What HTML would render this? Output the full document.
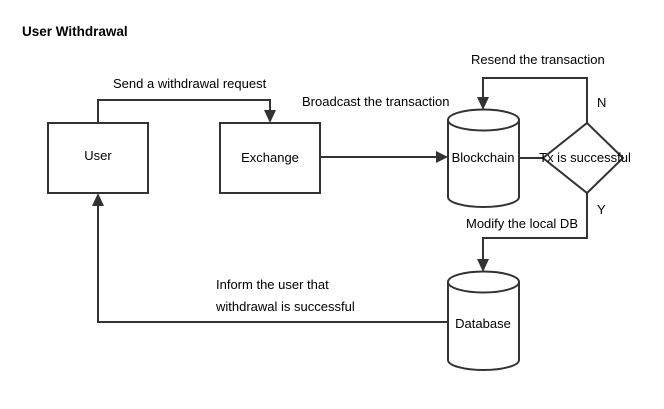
<!DOCTYPE html>
<html><head><style>body{margin:0;background:#fff}</style></head><body>
<svg width="664" height="404" xmlns="http://www.w3.org/2000/svg" font-family="'Liberation Sans','Noto Sans CJK SC',sans-serif" font-size="13" fill="#000">
<rect width="664" height="404" fill="#fff"/>
<text x="22" y="36" font-weight="bold" font-size="13.5">User Withdrawal</text>
<g stroke="#333" stroke-width="2" fill="none">
<rect x="48" y="123" width="100" height="70"/>
<rect x="220" y="123" width="100" height="70"/>
<path d="M98 123V100H270V112"/>
<path d="M320 157H438"/>
<path d="M519 158H543"/>
<path d="M587 123V78H483V99"/>
<path d="M587 193V238H483V261"/>
<path d="M448 322H98V206"/>
<path d="M448 120V197A35.5 10 0 0 0 519 197V120"/>
<ellipse cx="483.5" cy="120" rx="35.5" ry="10.5" fill="#fff"/>
<path d="M448 282V360A35.5 10 0 0 0 519 360V282"/>
<ellipse cx="483.5" cy="282" rx="35.5" ry="10.5" fill="#fff"/>
<path d="M587 123L623 158L587 193L543 158Z" fill="#fff"/>
</g>
<g fill="#333">
<path d="M264 110H276L270 123Z"/>
<path d="M436 151V163L448 157Z"/>
<path d="M477 97H489L483 110Z"/>
<path d="M477 259H489L483 272Z"/>
<path d="M92 206H104L98 193Z"/>
</g>
<text x="98" y="160" text-anchor="middle">User</text>
<text x="270" y="162" text-anchor="middle">Exchange</text>
<text x="483" y="162" text-anchor="middle">Blockchain</text>
<text x="585" y="162" text-anchor="middle">Tx is successful</text>
<text x="483" y="328" text-anchor="middle">Database</text>
<text x="113" y="88">Send a withdrawal request</text>
<text x="302" y="106">Broadcast the transaction</text>
<text x="471" y="64">Resend the transaction</text>
<text x="597" y="107">N</text>
<text x="597" y="214">Y</text>
<text x="466" y="228">Modify the local DB</text>
<text x="216" y="289">Inform the user that</text>
<text x="216" y="311">withdrawal is successful</text>
</svg>
</body></html>
